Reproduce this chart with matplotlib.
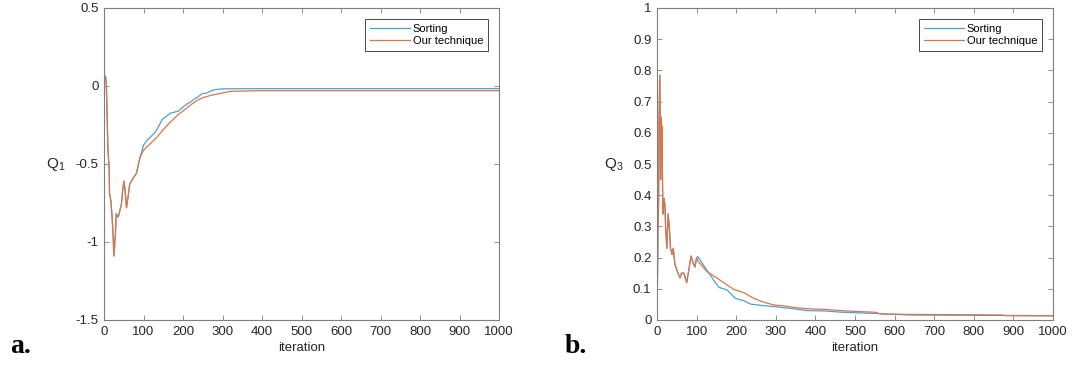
import matplotlib
matplotlib.use("Agg")
import matplotlib.pyplot as plt

# ---------------- data: panel a (Q1) ----------------
q1_sort_iter = [0, 4, 6, 8, 10, 13, 14, 17, 20, 23, 25, 29, 31, 36, 40, 44, 48, 51, 54, 57, 61, 65, 74, 82, 91,
                100, 108, 117, 124, 130, 138, 147, 155, 168, 178, 189, 200, 210, 219, 228, 238, 248, 260, 272,
                282, 300, 400, 600, 800, 1000]
q1_sort_val = [0.07, 0.06, 0.0, -0.2, -0.41, -0.52, -0.69, -0.73, -0.82, -0.95, -1.09, -0.95, -0.82, -0.84, -0.80,
               -0.76, -0.65, -0.61, -0.69, -0.78, -0.71, -0.63, -0.59, -0.56, -0.46,
               -0.38, -0.35, -0.33, -0.31, -0.296, -0.26, -0.216, -0.20, -0.174, -0.168, -0.16, -0.135, -0.115,
               -0.103, -0.085, -0.07, -0.049, -0.045, -0.03, -0.023, -0.018, -0.017, -0.017, -0.017, -0.017]

q1_ours_iter = [0, 4, 6, 8, 10, 13, 14, 17, 20, 23, 25, 29, 31, 36, 40, 44, 48, 51, 54, 57, 61, 65, 74, 82, 91,
                100, 117, 134, 150, 168, 185, 202, 220, 236, 250, 270, 290, 321, 400, 600, 800, 1000]
q1_ours_val = [0.07, 0.06, 0.0, -0.2, -0.41, -0.52, -0.69, -0.73, -0.82, -0.95, -1.09, -0.95, -0.82, -0.84, -0.80,
               -0.76, -0.65, -0.61, -0.69, -0.78, -0.71, -0.63, -0.59, -0.56, -0.46,
               -0.413, -0.37, -0.328, -0.28, -0.231, -0.19, -0.156, -0.12, -0.092, -0.075, -0.06, -0.05, -0.034,
               -0.03, -0.03, -0.03, -0.03]

# ---------------- data: panel b (Q3) ----------------
q3_ours_iter = [0, 2.5, 4, 5, 7, 8.5, 9, 11, 12, 13, 13.5, 14.5, 15, 18, 20, 22, 25, 28, 31, 34, 38, 41, 45, 53,
                58, 62, 68, 75, 79, 86, 92, 96, 100, 103, 126, 152, 177, 194, 219, 245, 270, 296, 321, 347,
                380, 423, 465, 508, 550, 567, 635, 750, 870, 880, 1000]
q3_ours_val = [0.0, 0.28, 0.38, 0.62, 0.785, 0.60, 0.45, 0.65, 0.53, 0.62, 0.49, 0.38, 0.34, 0.39, 0.37, 0.29,
               0.23, 0.34, 0.30, 0.23, 0.21, 0.23, 0.18, 0.15, 0.135, 0.15, 0.15, 0.12, 0.15, 0.205, 0.18, 0.17,
               0.20, 0.19, 0.155, 0.134, 0.112, 0.098, 0.088, 0.069, 0.057, 0.048, 0.045, 0.040,
               0.036, 0.034, 0.030, 0.027, 0.025, 0.019, 0.018, 0.017, 0.016, 0.014, 0.013]

q3_sort_iter = [0, 2.5, 4, 5, 7, 8.5, 9, 11, 12, 13, 13.5, 14.5, 15, 18, 20, 22, 25, 28, 31, 34, 38, 41, 45, 53,
                58, 62, 68, 75, 79, 86, 92, 96, 100, 103, 126, 143, 156, 177, 198, 219, 236, 262, 296, 338,
                380, 423, 465, 550, 640, 800, 1000]
q3_sort_val = [0.0, 0.28, 0.38, 0.62, 0.785, 0.60, 0.45, 0.65, 0.53, 0.62, 0.49, 0.38, 0.34, 0.39, 0.37, 0.29,
               0.23, 0.34, 0.30, 0.23, 0.21, 0.23, 0.18, 0.15, 0.135, 0.15, 0.15, 0.12, 0.15, 0.205, 0.18, 0.17,
               0.20, 0.203, 0.16, 0.128, 0.105, 0.096, 0.069, 0.062, 0.051, 0.047, 0.043, 0.037,
               0.030, 0.029, 0.025, 0.021, 0.016, 0.015, 0.014]

series_names = ["Sorting", "Our technique"]
x_ticks = [0, 100, 200, 300, 400, 500, 600, 700, 800, 900, 1000]
q1_ticks = [-1.5, -1, -0.5, 0, 0.5]
q3_ticks = [0, 0.1, 0.2, 0.3, 0.4, 0.5, 0.6, 0.7, 0.8, 0.9, 1]

# ---------------- style ----------------
BLUE = "#4aa3d3"
ORANGE = "#de7446"
TXT = "#262626"
SPINE = "#7f7f7f"
plt.rcParams["font.family"] = ["Liberation Sans", "DejaVu Sans"]
plt.rcParams["mathtext.fontset"] = "custom"
plt.rcParams["mathtext.rm"] = "Liberation Sans"

fig = plt.figure(figsize=(10.72, 3.69), dpi=100)
ax1 = fig.add_axes([104 / 1072, 1 - 320 / 369, 395 / 1072, 312 / 369])
ax2 = fig.add_axes([657 / 1072, 1 - 320 / 369, 396 / 1072, 312 / 369])


def tick_fmt(v):
    return f"{v:g}"


def style(ax, yticks, ylim, ylab):
    ax.set_xlim(0, 1000)
    ax.set_ylim(*ylim)
    ax.set_xticks(x_ticks)
    ax.set_xticklabels([tick_fmt(t) for t in x_ticks])
    ax.set_yticks(yticks)
    ax.set_yticklabels([tick_fmt(t) for t in yticks])
    ax.tick_params(direction="in", length=3.5, width=0.6, color=SPINE, labelcolor=TXT,
                   labelsize=9.5, top=True, right=True, pad=4)
    for s in ax.spines.values():
        s.set_color(SPINE)
        s.set_linewidth(0.8)
    ax.set_xlabel("iteration", fontsize=9.5, color=TXT, labelpad=3)
    ax.set_ylabel(ylab, fontsize=11, color=TXT, rotation=0, labelpad=14, va="center")
    leg = ax.legend(loc="upper right", fontsize=8, frameon=True, fancybox=False,
                    edgecolor="#4a4a4a", framealpha=1, borderpad=0.4, handlelength=3.6,
                    handletextpad=0.3, labelspacing=0.25, borderaxespad=1.0)
    leg.get_frame().set_linewidth(0.7)


ax1.plot(q1_sort_iter, q1_sort_val, color=BLUE, lw=0.9, label=series_names[0])
ax1.plot(q1_ours_iter, q1_ours_val, color=ORANGE, lw=0.9, label=series_names[1])
style(ax1, q1_ticks, (-1.5, 0.5), r"$\mathregular{Q_1}$")

ax2.plot(q3_sort_iter, q3_sort_val, color=BLUE, lw=0.9, label=series_names[0])
ax2.plot(q3_ours_iter, q3_ours_val, color=ORANGE, lw=0.9, label=series_names[1])
style(ax2, q3_ticks, (0, 1), r"$\mathregular{Q_3}$")

fig.text(10 / 1072, 1 - 353 / 369, "a.", fontsize=20, fontweight="bold", family="Liberation Serif", color="black")
fig.text(565 / 1072, 1 - 353 / 369, "b.", fontsize=20, fontweight="bold", family="Liberation Serif", color="black")

fig.savefig("out.png", dpi=100)
